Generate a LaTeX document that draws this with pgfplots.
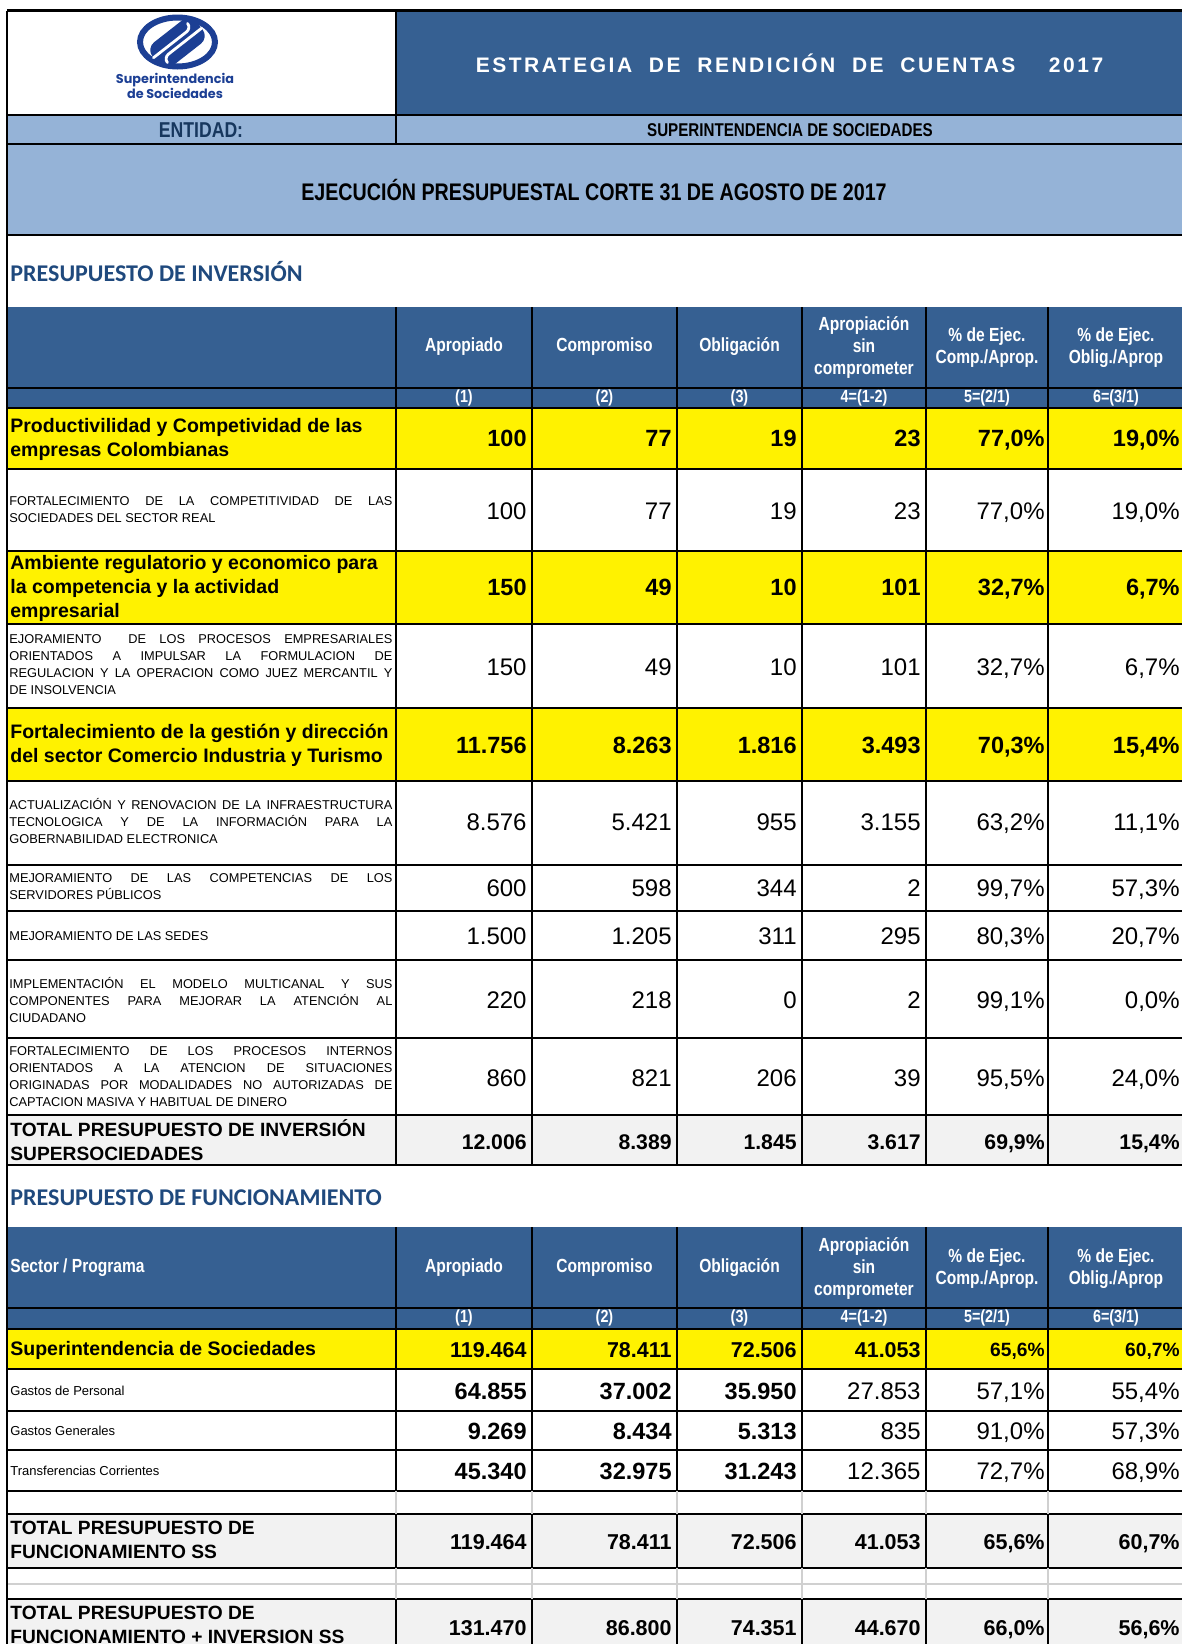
\documentclass[border=0pt]{standalone}
\usepackage{fontspec}
\usepackage{pgfplots}
\usepackage{pgfplotstable}
\pgfplotsset{compat=1.18}

\setmainfont{Liberation Sans}
\newfontfamily\narrow[FakeStretch=0.82]{Liberation Sans}
\newfontfamily\calibri{Carlito}
\newfontfamily\logofont{Poppins}
\newfontfamily\spaced[LetterSpace=12]{Liberation Sans}

\definecolor{hdrblue}{HTML}{366092}
\definecolor{lightblue}{HTML}{95B3D7}
\definecolor{secblue}{HTML}{1F497D}
\definecolor{navy}{HTML}{17375E}
\definecolor{logoblue}{HTML}{1C3F94}
\definecolor{totgray}{HTML}{F2F2F2}
\definecolor{gridgray}{HTML}{D0D0D0}

% one pixel of the reference = 0.5pt, axis units are pixels (y downwards)
\newcommand\fb[1]{\bfseries\fontsize{#1}{#1}\selectfont}
\newcommand\fr[1]{\fontsize{#1}{#1}\selectfont}

% y = row centre; c1..c4 in millions, c5 c6 in percent
\pgfplotstableread{
y     c1     c2    c3    c4    c5    c6
438   100    77    19    23    77.0  19.0
587   150    49    10    101   32.7  6.7
745   11756  8263  1816  3493  70.3  15.4
}\invyellow
\pgfplotstableread{
y     c1     c2    c3    c4    c5    c6
511   100    77    19    23    77.0  19.0
667   150    49    10    101   32.7  6.7
822   8576   5421  955   3155  63.2  11.1
888   600    598   344   2     99.7  57.3
936   1500   1205  311   295   80.3  20.7
1000  220    218   0     2     99.1  0.0
1078  860    821   206   39    95.5  24.0
}\invdetail
\pgfplotstableread{
y     c1     c2    c3    c4    c5    c6
1142  12006  8389  1845  3617  69.9  15.4
}\invtotal
\pgfplotstableread{
y     c1      c2     c3     c4     c5    c6
1350  119464  78411  72506  41053  65.6  60.7
}\funyellow
\pgfplotstableread{
y     c1     c2     c3     c4     c5    c6
1391  64855  37002  35950  27853  57.1  55.4
1431  9269   8434   5313   835    91.0  57.3
1471  45340  32975  31243  12365  72.7  68.9
}\fundetail
\pgfplotstableread{
y     c1      c2     c3     c4     c5    c6
1542  119464  78411  72506  41053  65.6  60.7
1628  131470  86800  74351  44670  66.0  56.6
}\funtotal

\pgfplotsset{
  cell/.style={only marks, mark=none, point meta=explicit, nodes near coords,
    every node near coord/.append style={anchor=east, inner sep=0pt, text depth=0pt, text=black, font=#1}},
  num/.style={cell={#1}, nodes near coords={\pgfmathprintnumber[use comma,fixed,precision=0,assume math mode=true]{\pgfplotspointmeta}}},
  pct/.style={cell={#1}, nodes near coords={\pgfmathprintnumber[use comma,fixed,fixed zerofill,precision=1,assume math mode=true]{\pgfplotspointmeta}\%}},
}

% table, font cols 1-3, font col 4, font cols 5-6
\newcommand\cells[4]{%
  \addplot[num={#2}] table[x expr=527, y=y, meta=c1] {#1};
  \addplot[num={#2}] table[x expr=672, y=y, meta=c2] {#1};
  \addplot[num={#2}] table[x expr=797, y=y, meta=c3] {#1};
  \addplot[num={#3}] table[x expr=921, y=y, meta=c4] {#1};
  \addplot[pct={#4}] table[x expr=1045, y=y, meta=c5] {#1};
  \addplot[pct={#4}] table[x expr=1180, y=y, meta=c6] {#1};
}

\tikzset{
  hd/.style={font=\narrow\bfseries\fontsize{9.5}{11}\selectfont, text=white, align=center, inner sep=0pt},
  sub/.style={font=\narrow\bfseries\fontsize{8.75}{9}\selectfont, text=white, inner sep=0pt},
  yl/.style={anchor=west, align=left, inner sep=0pt, font=\bfseries\fontsize{9.75}{12}\selectfont},
  tl/.style={anchor=west, align=left, inner sep=0pt, font=\bfseries\fontsize{9.6}{12}\selectfont},
  gl/.style={anchor=west, inner sep=0pt, font=\fontsize{6.5}{8}\selectfont},
  bl/.style={line width=1.2pt, black},
  gr/.style={line width=0.75pt, gridgray},
}

\newcommand\headers[2]{%
  \node[hd] at (464,#1) {Apropiado};
  \node[hd] at (604.5,#1) {Compromiso};
  \node[hd] at (739.5,#1) {Obligación};
  \node[hd] at (864,#1) {Apropiación\\sin\\comprometer};
  \node[hd] at (987,#1+1) {\% de Ejec.\\Comp./Aprop.};
  \node[hd] at (1116,#1+1) {\% de Ejec.\\Oblig./Aprop};
  \node[sub] at (464,#2) {(1)};
  \node[sub] at (604.5,#2) {(2)};
  \node[sub] at (739.5,#2) {(3)};
  \node[sub] at (864,#2) {4=(1-2)};
  \node[sub] at (987,#2) {5=(2/1)};
  \node[sub] at (1116,#2) {6=(3/1)};
}

\newcommand\dl[2]{\node[anchor=west, inner sep=0pt] at (9,#1)
  {\parbox{191.5pt}{\fontsize{6.4}{8.5}\selectfont\hyphenpenalty=10000 #2}};}

\begin{document}
\begin{tikzpicture}
\begin{axis}[
  at={(0pt,0pt)}, anchor=south west,
  width=591pt, height=822pt, scale only axis,
  xmin=0, xmax=1182, ymin=0, ymax=1644, y dir=reverse,
  axis lines=none, clip=false,
  point meta min=0, point meta max=200000,
]
% backgrounds
\fill[hdrblue] (396,10.5) rectangle (1182,115);
\fill[lightblue] (7,115) rectangle (1182,235);
\fill[hdrblue] (7,307) rectangle (1182,408);
\fill[yellow] (7,408) rectangle (1182,469);
\fill[yellow] (7,551) rectangle (1182,624);
\fill[yellow] (7,708) rectangle (1182,781);
\fill[totgray] (7,1115) rectangle (1182,1165);
\fill[hdrblue] (7,1227) rectangle (1182,1329);
\fill[yellow] (7,1329) rectangle (1182,1369);
\fill[totgray] (7,1514) rectangle (1182,1568);
\fill[totgray] (7,1599) rectangle (1182,1644);

% logo
\draw[logoblue, line width=3pt] (177.5,42) ellipse [x radius=18.75pt, y radius=12.25pt];
\begin{scope}[shift={(177.5,43)}, rotate=38]
  \fill[logoblue, rounded corners=5pt] (-14pt,-7.5pt) rectangle (14pt,7.5pt);
  \draw[white, line width=1.4pt, line cap=round] (-14pt,1.6pt) -- (7pt,1.6pt) arc[start angle=-90, end angle=0, radius=3pt];
  \draw[white, line width=1.4pt, line cap=round] (14pt,-1.6pt) -- (-7pt,-1.6pt) arc[start angle=90, end angle=180, radius=3pt];
\end{scope}
\node[font=\logofont\bfseries\fontsize{6.4}{5.3}\selectfont, text=logoblue, align=center, inner sep=0pt] at (175,86) {Superintendencia\\de Sociedades};

% title block
\node[font=\spaced\bfseries\fontsize{10.5}{12}\selectfont, text=white] at (789.5,63)
  {ESTRATEGIA\ \ DE\ \ RENDICIÓN\ \ DE\ \ CUENTAS\ \ \ \ 2017};
\node[font=\narrow\bfseries\fontsize{10.75}{12}\selectfont, text=navy] at (201,130) {ENTIDAD:};
\node[font=\narrow\bfseries\fontsize{9.25}{11}\selectfont] at (790,130) {SUPERINTENDENCIA DE SOCIEDADES};
\node[font=\narrow\bfseries\fontsize{12}{14}\selectfont] at (594,190) {EJECUCIÓN PRESUPUESTAL CORTE 31 DE AGOSTO DE 2017};

% inversion
\node[anchor=west, font=\calibri\bfseries\fontsize{12}{14}\selectfont, text=secblue, inner sep=0pt] at (10,272) {PRESUPUESTO DE INVERSIÓN};
\headers{347}{398}
\node[yl] at (10,439) {Productivilidad y Competividad de las\\empresas Colombianas};
\node[yl] at (10,588) {Ambiente regulatorio y economico para\\la competencia y la actividad\\empresarial};
\node[yl] at (10,745) {Fortalecimiento de la gestión y dirección\\del sector Comercio Industria y Turismo};
\dl{509.5}{FORTALECIMIENTO DE LA COMPETITIVIDAD DE LAS\linebreak SOCIEDADES DEL SECTOR REAL}
\dl{665}{EJORAMIENTO\ \ DE LOS PROCESOS EMPRESARIALES\linebreak ORIENTADOS A IMPULSAR LA FORMULACION DE\linebreak REGULACION Y LA OPERACION COMO JUEZ MERCANTIL Y\linebreak DE INSOLVENCIA}
\dl{821.5}{ACTUALIZACIÓN Y RENOVACION DE LA INFRAESTRUCTURA\linebreak TECNOLOGICA Y DE LA INFORMACIÓN PARA LA\linebreak GOBERNABILIDAD ELECTRONICA}
\dl{887}{MEJORAMIENTO DE LAS COMPETENCIAS DE LOS\linebreak SERVIDORES PÚBLICOS}
\dl{936}{MEJORAMIENTO DE LAS SEDES}
\dl{999.5}{IMPLEMENTACIÓN EL MODELO MULTICANAL Y SUS\linebreak COMPONENTES PARA MEJORAR LA ATENCIÓN AL\linebreak CIUDADANO}
\dl{1076.5}{FORTALECIMIENTO DE LOS PROCESOS INTERNOS\linebreak ORIENTADOS A LA ATENCION DE SITUACIONES\linebreak ORIGINADAS POR MODALIDADES NO AUTORIZADAS DE\linebreak CAPTACION MASIVA Y HABITUAL DE DINERO}
\node[tl] at (10,1140.5) {TOTAL PRESUPUESTO DE INVERSIÓN\\SUPERSOCIEDADES};

\cells{\invyellow}{\fb{11.75}}{\fb{11.75}}{\fb{11.75}}
\cells{\invdetail}{\fr{12}}{\fr{12}}{\fr{12}}
\cells{\invtotal}{\fb{10.6}}{\fb{10.6}}{\fb{10.6}}

% funcionamiento
\node[anchor=west, font=\calibri\bfseries\fontsize{12}{14}\selectfont, text=secblue, inner sep=0pt] at (10,1198) {PRESUPUESTO DE FUNCIONAMIENTO};
\headers{1268}{1318}
\node[hd, anchor=west] at (10,1268) {Sector / Programa};
\node[yl] at (10,1350) {Superintendencia de Sociedades};
\node[gl] at (10,1391) {Gastos de Personal};
\node[gl] at (10,1431) {Gastos Generales};
\node[gl] at (10,1471) {Transferencias Corrientes};
\node[tl] at (10,1540) {TOTAL PRESUPUESTO DE\\FUNCIONAMIENTO SS};
\node[tl] at (10,1624.5) {TOTAL PRESUPUESTO DE\\FUNCIONAMIENTO + INVERSION SS};

\cells{\funyellow}{\fb{10.75}}{\fb{10.75}}{\fb{9.6}}
\cells{\fundetail}{\fb{11.75}}{\fr{12}}{\fr{12}}
\cells{\funtotal}{\fb{10.75}}{\fb{10.75}}{\fb{10.75}}

% rules
\pgfplotsinvokeforeach{10.5,115,144,235,408,469,551,624,708,781,865,911,960,1038,1115,1165,1329,1369,1411,1450,1491,1514,1568,1599}{
  \draw[bl] (7,#1) -- (1182,#1);}
\draw[line width=0.6pt] (7,388) -- (1182,388);
\draw[line width=0.6pt] (7,1308) -- (1182,1308);
\draw[gr] (7,1584) -- (1182,1584);
\draw[bl] (7,10.5) -- (7,1644);
\draw[bl] (396,10.5) -- (396,144);
\pgfplotsinvokeforeach{396,532,677,802,926,1048}{
  \draw[bl] (#1,307) -- (#1,1165);
  \draw[bl] (#1,1227) -- (#1,1491);
  \draw[gr] (#1,1491) -- (#1,1514);
  \draw[bl] (#1,1514) -- (#1,1568);
  \draw[gr] (#1,1568) -- (#1,1599);
  \draw[bl] (#1,1599) -- (#1,1644);
}
\end{axis}
\pgfresetboundingbox
\path (0pt,0pt) rectangle (591pt,822pt);
\end{tikzpicture}
\end{document}
